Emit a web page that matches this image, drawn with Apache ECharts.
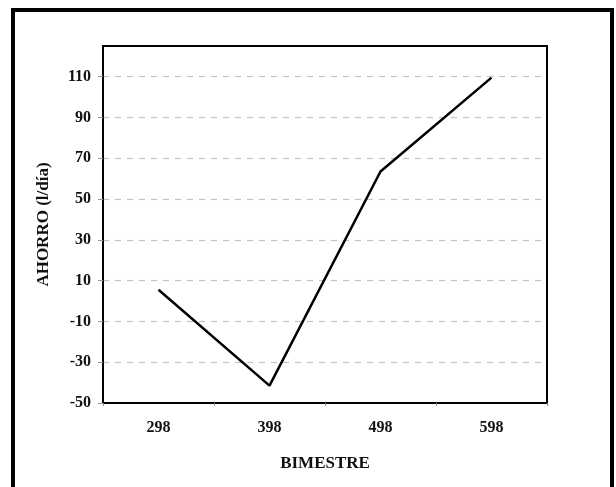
<!DOCTYPE html>
<html>
<head>
<meta charset="utf-8">
<script src="https://cdn.jsdelivr.net/npm/echarts@6/dist/echarts.min.js"></script>
<style>
html,body{margin:0;padding:0;background:#fff;}
#chart{width:616px;height:487px;}
</style>
</head>
<body>
<div id="chart"></div>
<script>
var categories = ['298', '398', '498', '598'];
var ahorro = [5.5, -41.5, 63.5, 109.5];
var yTicks = [-50, -30, -10, 10, 30, 50, 70, 90, 110];

var FONT = '"Liberation Serif", "DejaVu Serif", serif';
var chart = echarts.init(document.getElementById('chart'), null, {renderer: 'canvas'});
chart.setOption({
  backgroundColor: '#ffffff',
  animation: false,
  graphic: [{
    type: 'rect',
    shape: {x: 13, y: 10, width: 599, height: 520},
    style: {fill: 'none', stroke: '#000', lineWidth: 4},
    silent: true
  }],
  grid: {left: 103, top: 46, width: 444, height: 357, show: true, borderColor: '#000', borderWidth: 2, backgroundColor: 'transparent'},
  xAxis: {
    type: 'category',
    data: categories,
    boundaryGap: true,
    name: 'BIMESTRE',
    nameLocation: 'middle',
    nameGap: 52,
    nameTextStyle: {fontFamily: FONT, fontWeight: 'bold', fontSize: 17, color: '#111'},
    axisLine: {onZero: false, lineStyle: {color: '#000', width: 2}},
    axisTick: {show: true, inside: false, length: 3, alignWithLabel: false, lineStyle: {color: '#888'}},
    axisLabel: {fontFamily: FONT, fontWeight: 'bold', fontSize: 16, color: '#111', margin: 17},
    splitLine: {show: false}
  },
  yAxis: {
    type: 'value',
    min: yTicks[0],
    max: 125,
    interval: 20,
    name: 'AHORRO (l/día)',
    nameLocation: 'middle',
    nameGap: 51,
    nameRotate: 90,
    nameTextStyle: {fontFamily: FONT, fontWeight: 'bold', fontSize: 17, color: '#111'},
    axisLine: {show: true, onZero: false, lineStyle: {color: '#000', width: 2}},
    axisTick: {show: true, length: 5, lineStyle: {color: '#999'}},
    axisLabel: {fontFamily: FONT, fontWeight: 'bold', fontSize: 16, color: '#111', margin: 12, showMaxLabel: false,
      formatter: function (v) { return yTicks.indexOf(v) >= 0 ? String(v) : ''; }},
    splitLine: {show: true, showMinLine: false, showMaxLine: false, lineStyle: {color: '#c4c4c4', type: [6, 6], width: 1.2}}
  },
  series: [{
    type: 'line',
    data: ahorro,
    symbol: 'none',
    lineStyle: {color: '#000', width: 2.5},
    z: 5
  }]
});
</script>
</body>
</html>
